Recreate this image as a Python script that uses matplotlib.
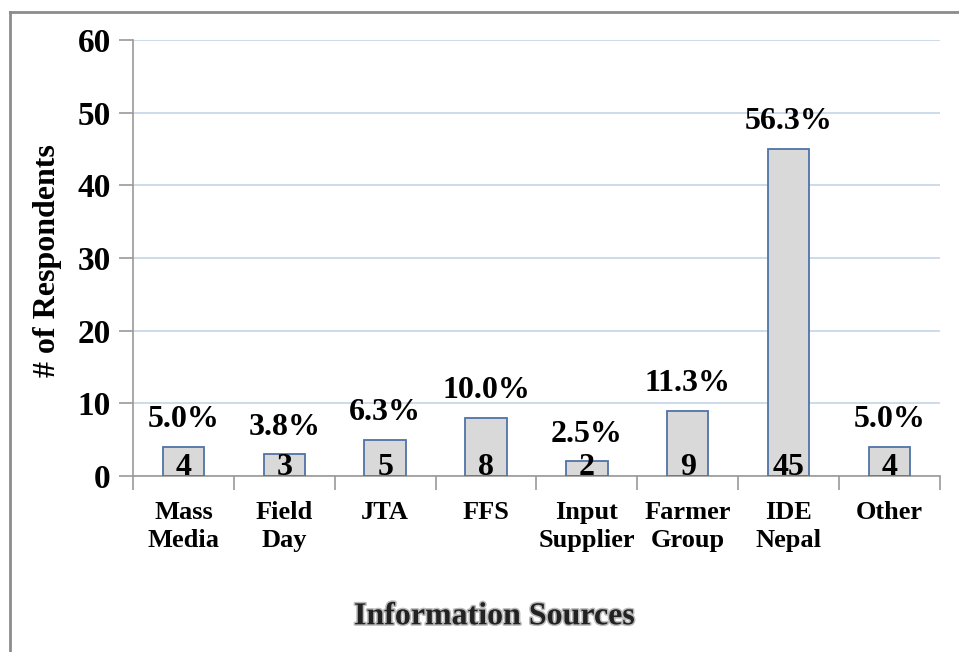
import matplotlib.pyplot as plt
import matplotlib.patheffects as pe
from matplotlib.lines import Line2D

# =====================================================
# DATA
# =====================================================

categories = ["Mass\nMedia", "Field\nDay", "JTA", "FFS",
              "Input\nSupplier", "Farmer\nGroup", "IDE\nNepal", "Other"]
counts = [4, 3, 5, 8, 2, 9, 45, 4]
percents = ["5.0%", "3.8%", "6.3%", "10.0%", "2.5%", "11.3%", "56.3%", "5.0%"]

# =====================================================
# FIGURE
# =====================================================

plt.rcParams["font.family"] = ["Liberation Serif", "DejaVu Serif"]
plt.rcParams["font.weight"] = "bold"

fig = plt.figure(figsize=(9.59, 6.52), dpi=100)
ax = fig.add_axes([0.1387, 0.270, 0.8413, 0.6687])

x = list(range(len(categories)))

ax.bar(
    x,
    counts,
    width=0.41,
    color="#d9d9d9",
    edgecolor="#4f74a8",
    linewidth=1.3,
    zorder=3
)

for xi, c, p in zip(x, counts, percents):
    ax.annotate(
        p, (xi, c),
        xytext=(0, 9), textcoords="offset points",
        ha="center", va="bottom",
        fontsize=23, fontweight="bold", zorder=4
    )
    ax.annotate(
        str(c), (xi, 0),
        xytext=(0, -4), textcoords="offset points",
        ha="center", va="bottom",
        fontsize=23, fontweight="bold", zorder=4
    )

ax.set_xlim(-0.5, len(categories) - 0.5)
ax.set_ylim(0, 60)
ax.set_yticks(range(0, 61, 10))
ax.set_yticklabels([str(v) for v in range(0, 61, 10)],
                   fontsize=24, fontweight="bold")

ax.set_xticks(x)
ax.set_xticklabels(categories, fontsize=19, fontweight="bold",
                   linespacing=1.3)
ax.set_xticks([i + 0.5 for i in range(-1, len(categories))], minor=True)
ax.tick_params(axis="x", which="major", length=0, pad=18)
ax.tick_params(axis="x", which="minor", length=10, color="#999999",
               width=1.2)
ax.tick_params(axis="y", length=10, color="#999999", width=1.2, pad=6)

ax.grid(axis="y", color="#c5d4e8", linewidth=1.2, zorder=0)
ax.set_axisbelow(True)

for side in ["top", "right"]:
    ax.spines[side].set_visible(False)
for side in ["left", "bottom"]:
    ax.spines[side].set_color("#999999")
    ax.spines[side].set_linewidth(1.2)

fig.text(0.050, 0.601, "# of Respondents", rotation=90,
         ha="center", va="center", fontsize=23, fontweight="bold")

fig.text(0.516, 0.054, "Information Sources",
         ha="center", va="center", fontsize=23, fontweight="bold",
         color="#222222",
         path_effects=[pe.withStroke(linewidth=2.2, foreground="#bbbbbb")])

# outer frame (left and top edges only)
fig.add_artist(Line2D([0.0104, 0.0104], [0.0, 0.9816],
                      transform=fig.transFigure, color="#8c8c8c", lw=2.0))
fig.add_artist(Line2D([0.0104, 1.0], [0.9816, 0.9816],
                      transform=fig.transFigure, color="#8c8c8c", lw=2.0))

fig.savefig("out.png", dpi=100)
